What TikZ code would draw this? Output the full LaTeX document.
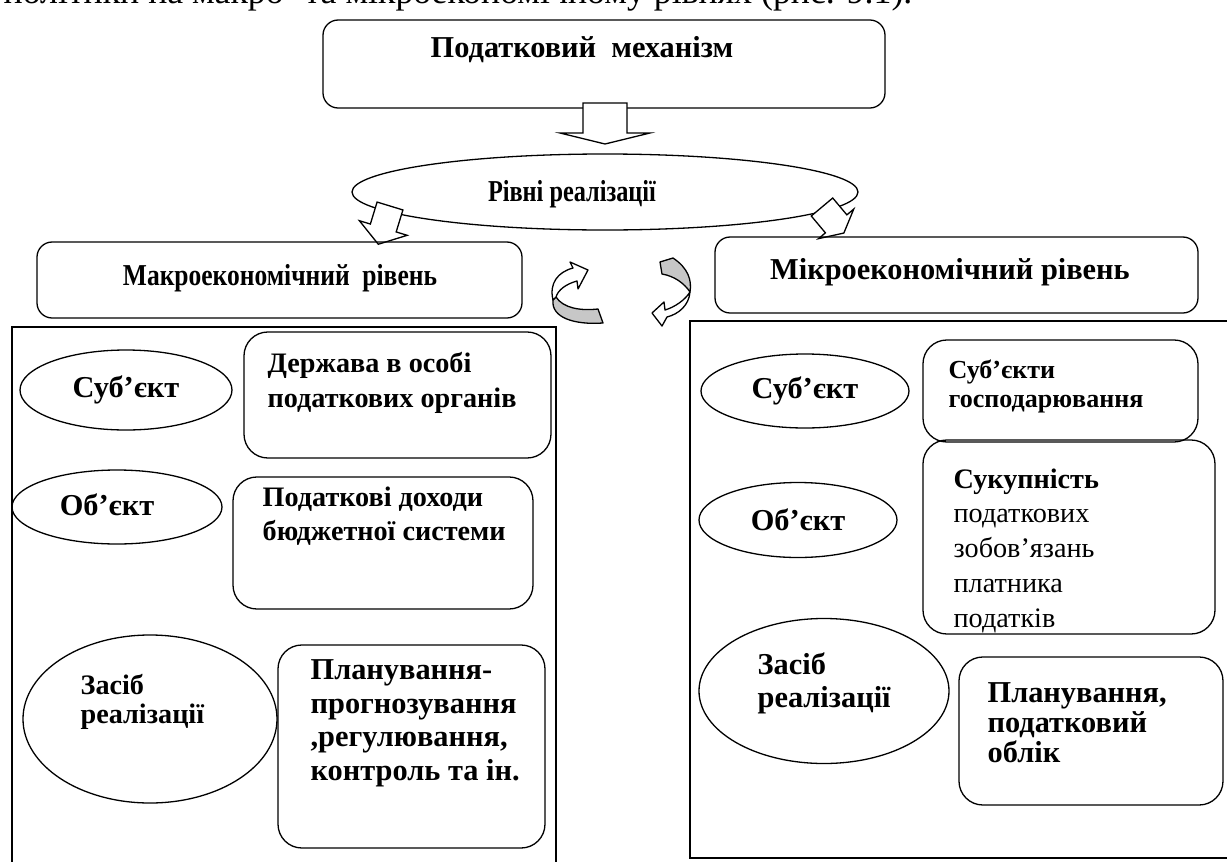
\documentclass[tikz,border=0pt]{standalone}
\usepackage{fontspec}
\setmainfont{Liberation Serif}
\usetikzlibrary{shapes.geometric}

\begin{document}
\begin{tikzpicture}[x=0.0162cm,y=-0.0162cm,line width=0.6pt,
  sz/.style 2 args={minimum width={#1*\u},minimum height={#2*\u}},
  rbox/.style={draw,rectangle,rounded corners=11pt,inner sep=0pt},
  lbox/.style={draw,rectangle,rounded corners=7pt,inner sep=0pt},
  panel/.style={draw,rectangle,inner sep=0pt},
  oval/.style={draw,ellipse,inner sep=0pt,font=\fontsize{14}{16}\selectfont\bfseries},
  txt/.style={align=left,anchor=north west,inner sep=0pt,font=\fontsize{14}{#1}\selectfont\bfseries},
  barrow/.style={draw,fill=white,line join=miter},
  twist/.style={draw,line join=round}]
\def\u{0.0162cm}
\useasboundingbox (0,0) rectangle (1227,862);
% caption line, cut at the top
\node[anchor=base west,inner sep=0pt,font=\fontsize{16.5}{18}\selectfont] (caption) at (3,3)
  {політики на макро- та мікроекономічному рівнях (рис. 9.1).};
% top level
\node[lbox,sz={562}{88}] (mech) at (604,64) {};
\node[font=\fontsize{14}{16}\selectfont\bfseries,inner sep=0pt] (mechtxt) at (582,50) {Податковий\ \ механізм};
\node[draw,ellipse,inner sep=0pt,sz={506}{76}] (levels) at (605,192) {};
\node[font=\fontsize{14}{16}\selectfont\bfseries,inner sep=0pt] (levelstxt) at (572,194)
  {\scalebox{0.8}[1]{Рівні реалізації}};
% block arrows
\begin{scope}[shift={(605,103)}]
\draw[barrow] (-22,0) -- (22,0) -- (22,30) -- (45,30) -- (0,41) -- (-45,30) -- (-22,30) -- cycle;
\end{scope}
\begin{scope}[shift={(390,206)},rotate=-17]
\draw[barrow] (-13.5,0) -- (13.5,0) -- (13.5,23) -- (25,23) -- (0,40) -- (-25,23) -- (-13.5,23) -- cycle;
\end{scope}
\begin{scope}[shift={(822,207)},rotate=40]
\draw[barrow] (-14,0) -- (14,0) -- (14,22) -- (23,22) -- (0,34) -- (-23,22) -- (-14,22) -- cycle;
\end{scope}
\node[lbox,sz={485}{76}] (macro) at (279.5,280) {};
\node[font=\fontsize{14}{16}\selectfont\bfseries,inner sep=0pt] (macrotxt) at (280,278)
  {\scalebox{0.84}[1]{Макроекономічний\ \ рівень}};
\node[lbox,sz={483}{76}] (micro) at (956.5,275) {};
\node[font=\fontsize{14}{16}\selectfont\bfseries,inner sep=0pt] (microtxt) at (950,272) {Мікроекономічний рівень};
% curved arrows between the levels
\filldraw[twist,fill=black!22] (553,300) .. controls (551,318) and (575,325) .. (603,323)
  -- (598,309) .. controls (580,311) and (563,308) .. (556,297) -- cycle;
\filldraw[twist,fill=white] (553,300) .. controls (549,283) and (558,272) .. (573,268)
  -- (570,262) -- (588,270) -- (578,289) -- (577,281) .. controls (566,284) and (558,290) .. (556,297) -- cycle;
\filldraw[twist,fill=black!22] (660,262) -- (673,258) .. controls (688,268) and (692,280) .. (690,292)
  .. controls (684,283) and (674,276) .. (662,274) -- cycle;
\filldraw[twist,fill=white] (690,292) .. controls (689,305) and (679,314) .. (667,317)
  -- (662,326) -- (652,313) -- (664,302) -- (665,310) .. controls (675,307) and (685,300) .. (690,292) -- cycle;
% macro level
\node[panel,sz={544}{553}] (macropanel) at (284,603.5) {};
\node[oval,sz={212}{80}] (subj1) at (126,390) {Суб’єкт};
\node[rbox,sz={307}{126}] (subj1box) at (397.5,395) {};
\node[txt=16,font=\fontsize{13}{16}\selectfont\bfseries] (subj1txt) at (267,352) {Держава в особі\\податкових органів};
\node[draw,ellipse,inner sep=0pt,sz={210}{74}] (obj1) at (117,507) {};
\node[font=\fontsize{14}{16}\selectfont\bfseries,inner sep=0pt] (obj1txt) at (107,505) {Об’єкт};
\node[rbox,sz={300}{132}] (obj1box) at (383,543) {};
\node[txt=16,font=\fontsize{13}{16}\selectfont\bfseries] (obj1txt) at (262,486) {Податкові доходи\\бюджетної системи};
\node[draw,ellipse,inner sep=0pt,sz={254}{168}] (tool1) at (150,719) {};
\node[txt=13,font=\fontsize{13}{13}\selectfont\bfseries] (tool1txt) at (80,674) {Засіб\\реалізації};
\node[rbox,sz={267}{203}] (tool1box) at (411.5,746.5) {};
\node[txt=15.5] (tool1boxtxt) at (310,659) {Планування-\\прогнозування\\,регулювання,\\контроль та ін.};
% micro level
\node[panel,sz={550}{537}] (micropanel) at (965,589.5) {};
\node[oval,sz={208}{74}] (subj2) at (805,391) {Суб’єкт};
\node[rbox,sz={275}{102}] (subj2box) at (1060.5,391) {};
\node[txt=13.4,font=\fontsize{12}{13.4}\selectfont\bfseries] (subj2txt) at (948,359) {Суб’єкти\\господарювання};
\node[oval,sz={198}{75}] (obj2) at (798,520) {Об’єкт};
\node[rbox,sz={292}{194}] (obj2box) at (1069,537) {};
\node[txt=16,font=\fontsize{13}{16}\selectfont] (obj2txt) at (953,468)
  {\textbf{Сукупність}\\податкових\\зобов’язань\\платника\\податків};
\node[draw,ellipse,inner sep=0pt,sz={250}{145}] (tool2) at (824,691) {};
\node[txt=15.2] (tool2txt) at (757,652) {Засіб\\реалізації};
\node[rbox,sz={264}{148}] (tool2box) at (1091,731) {};
\node[txt=13.8] (tool2boxtxt) at (987,682) {Планування,\\податковий\\облік};
\end{tikzpicture}
\end{document}
